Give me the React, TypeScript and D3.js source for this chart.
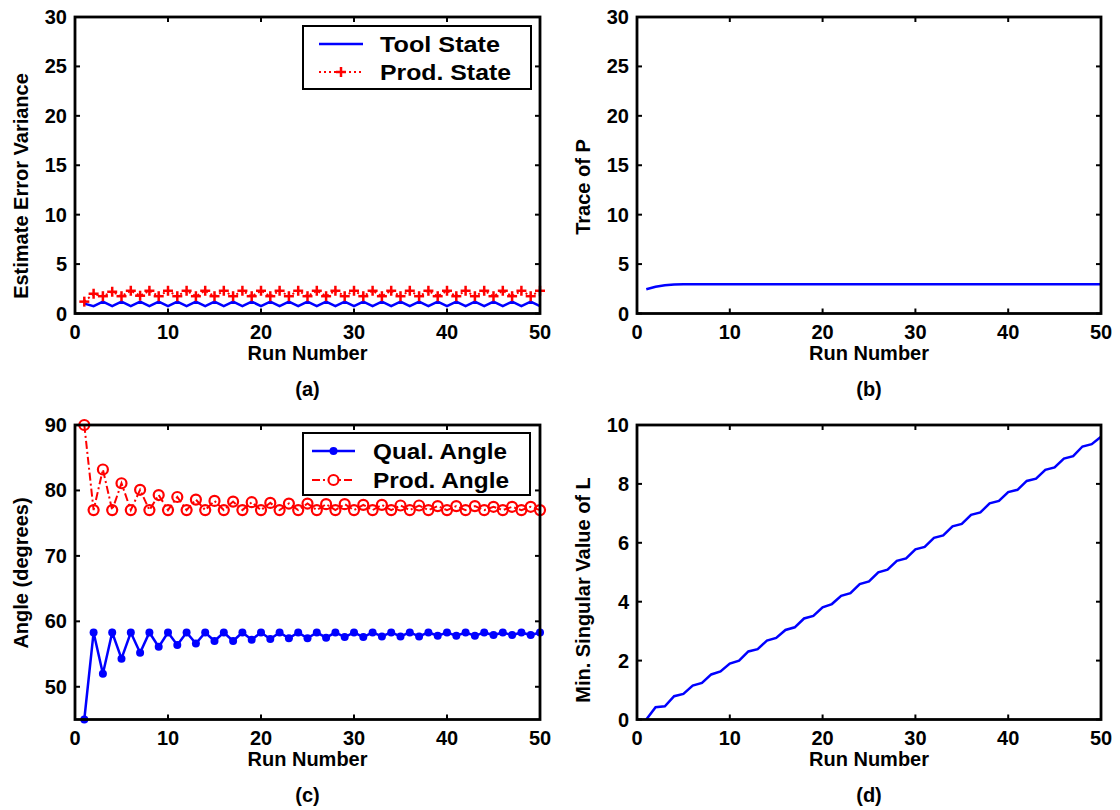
import React from "react";
import * as d3 from "d3";

// ---------- data ----------
const runs: number[] = Array.from({ length: 50 }, (_, i) => i + 1);

const toolStateVar: number[] = [
  1.0, 0.75, 1.2, 0.75, 1.2, 0.75, 1.2, 0.75, 1.2, 0.75,
  1.2, 0.75, 1.2, 0.75, 1.2, 0.75, 1.2, 0.75, 1.2, 0.75,
  1.2, 0.75, 1.2, 0.75, 1.2, 0.75, 1.2, 0.75, 1.2, 0.75,
  1.2, 0.75, 1.2, 0.75, 1.2, 0.75, 1.2, 0.75, 1.2, 0.75,
  1.2, 0.75, 1.2, 0.75, 1.2, 0.75, 1.2, 0.75, 1.2, 0.75,
];
const prodStateVar: number[] = [
  1.2, 2.0, 1.75, 2.2, 1.75, 2.3, 1.8, 2.3, 1.75, 2.3,
  1.75, 2.3, 1.75, 2.3, 1.75, 2.3, 1.75, 2.3, 1.75, 2.3,
  1.75, 2.3, 1.75, 2.3, 1.75, 2.3, 1.75, 2.3, 1.75, 2.3,
  1.75, 2.3, 1.75, 2.3, 1.75, 2.3, 1.75, 2.3, 1.75, 2.3,
  1.75, 2.3, 1.75, 2.3, 1.75, 2.3, 1.75, 2.3, 1.75, 2.3,
];
const traceP: number[] = [
  2.45, 2.7, 2.85, 2.93, 2.95, 2.95, 2.95, 2.95, 2.95, 2.95,
  2.95, 2.95, 2.95, 2.95, 2.95, 2.95, 2.95, 2.95, 2.95, 2.95,
  2.95, 2.95, 2.95, 2.95, 2.95, 2.95, 2.95, 2.95, 2.95, 2.95,
  2.95, 2.95, 2.95, 2.95, 2.95, 2.95, 2.95, 2.95, 2.95, 2.95,
  2.95, 2.95, 2.95, 2.95, 2.95, 2.95, 2.95, 2.95, 2.95, 2.95,
];
const qualAngle: number[] = [
  45.0, 58.3, 52.0, 58.3, 54.3, 58.3, 55.2, 58.3, 56.1, 58.3,
  56.4, 58.3, 56.6, 58.3, 57.0, 58.3, 57.0, 58.3, 57.2, 58.3,
  57.3, 58.3, 57.4, 58.3, 57.4, 58.3, 57.5, 58.3, 57.6, 58.3,
  57.6, 58.3, 57.7, 58.3, 57.7, 58.3, 57.7, 58.3, 57.8, 58.3,
  57.8, 58.3, 57.8, 58.3, 57.9, 58.3, 57.9, 58.3, 57.9, 58.3,
];
const prodAngle: number[] = [
  90.0, 77.0, 83.2, 77.0, 81.1, 77.0, 80.1, 77.0, 79.3, 77.0,
  79.0, 77.0, 78.6, 77.0, 78.4, 77.0, 78.3, 77.0, 78.2, 77.0,
  78.1, 77.0, 78.0, 77.0, 78.0, 77.0, 77.9, 77.0, 77.9, 77.0,
  77.8, 77.0, 77.8, 77.0, 77.7, 77.0, 77.7, 77.0, 77.6, 77.0,
  77.6, 77.0, 77.6, 77.0, 77.5, 77.0, 77.5, 77.0, 77.5, 77.0,
];
const minSingL: number[] = [
  0.0, 0.42, 0.45, 0.79, 0.87, 1.15, 1.24, 1.53, 1.63, 1.9,
  2.0, 2.31, 2.39, 2.68, 2.77, 3.04, 3.13, 3.43, 3.52, 3.81,
  3.92, 4.2, 4.29, 4.6, 4.69, 5.0, 5.09, 5.39, 5.47, 5.78,
  5.86, 6.17, 6.25, 6.56, 6.64, 6.95, 7.03, 7.34, 7.42, 7.72,
  7.8, 8.1, 8.18, 8.48, 8.56, 8.86, 8.94, 9.27, 9.35, 9.6,
];

const xTicks: number[] = [0, 10, 20, 30, 40, 50];
const yTicksA: number[] = [0, 5, 10, 15, 20, 25, 30];
const yTicksC: number[] = [50, 60, 70, 80, 90];
const yTicksD: number[] = [0, 2, 4, 6, 8, 10];

const FONT = "'Liberation Sans', Arial, Helvetica, sans-serif";
const BLUE = "#0000ff";
const RED = "#ff0000";
const FS = 20;

type Box = { x0: number; x1: number; y0: number; y1: number };

function Axes(props: {
  box: Box;
  yDomain: [number, number];
  yTicks: number[];
  yLabel: string;
  yLabelCenter: number;
  caption: string;
  children: (x: d3.ScaleLinear<number, number>, y: d3.ScaleLinear<number, number>) => React.ReactNode;
}) {
  const { box, yDomain, yTicks, yLabel, yLabelCenter, caption, children } = props;
  const x = d3.scaleLinear().domain([0, 50]).range([box.x0, box.x1]);
  const y = d3.scaleLinear().domain(yDomain).range([box.y1, box.y0]);
  const tl = 5;
  const cx = (box.x0 + box.x1) / 2;
  return (
    <g>
      {children(x, y)}
      <rect x={box.x0} y={box.y0} width={box.x1 - box.x0} height={box.y1 - box.y0}
        fill="none" stroke="#000" strokeWidth={2.8} />
      {xTicks.map((t) => (
        <g key={"xt" + t}>
          <line x1={x(t)} x2={x(t)} y1={box.y1} y2={box.y1 - tl} stroke="#000" strokeWidth={2} />
          <line x1={x(t)} x2={x(t)} y1={box.y0} y2={box.y0 + tl} stroke="#000" strokeWidth={2} />
          <text x={x(t)} y={box.y1 + 25} textAnchor="middle" fontFamily={FONT}
            fontWeight="bold" fontSize={FS}>{t}</text>
        </g>
      ))}
      {yTicks.map((t) => (
        <g key={"yt" + t}>
          <line x1={box.x0} x2={box.x0 + tl} y1={y(t)} y2={y(t)} stroke="#000" strokeWidth={2} />
          <line x1={box.x1} x2={box.x1 - tl} y1={y(t)} y2={y(t)} stroke="#000" strokeWidth={2} />
          <text x={box.x0 - 8} y={y(t) + 7} textAnchor="end" fontFamily={FONT}
            fontWeight="bold" fontSize={FS}>{t}</text>
        </g>
      ))}
      <text x={cx} y={box.y1 + 46} textAnchor="middle" fontFamily={FONT}
        fontWeight="bold" fontSize={FS}>Run Number</text>
      <text x={cx} y={box.y1 + 82} textAnchor="middle" fontFamily={FONT}
        fontWeight="bold" fontSize={FS}>{caption}</text>
      <text transform={`translate(${box.x0 - 47},${yLabelCenter}) rotate(-90)`} textAnchor="middle"
        fontFamily={FONT} fontWeight="bold" fontSize={FS}>{yLabel}</text>
    </g>
  );
}

function Plus({ cx, cy }: { cx: number; cy: number }) {
  const s = 5;
  return (
    <g stroke={RED} strokeWidth={2.5}>
      <line x1={cx - s} x2={cx + s} y1={cy} y2={cy} />
      <line x1={cx} x2={cx} y1={cy - s} y2={cy + s} />
    </g>
  );
}

function LegendText({ x, y, w, children }: { x: number; y: number; w: number; children: string }) {
  return (
    <text x={x} y={y} fontFamily={FONT} fontWeight="bold" fontSize={22}
      textLength={w} lengthAdjust="spacingAndGlyphs">{children}</text>
  );
}

export default function App() {
  const boxA: Box = { x0: 75, x1: 540, y0: 17, y1: 313.5 };
  const boxB: Box = { x0: 637, x1: 1101, y0: 17, y1: 313.5 };
  const boxC: Box = { x0: 75, x1: 540, y0: 425, y1: 719.5 };
  const boxD: Box = { x0: 637, x1: 1101, y0: 425, y1: 719.5 };

  const lineOf = (x: d3.ScaleLinear<number, number>, y: d3.ScaleLinear<number, number>, vals: number[]) =>
    d3.line<number>().x((_, i) => x(runs[i])).y((v) => y(v))(vals) || "";

  return (
    <svg width={1120} height={810} style={{ position: "absolute", left: 0, top: 0, background: "#fff" }}>
      <rect x={0} y={0} width={1120} height={810} fill="#fff" />
      {/* (a) */}
      <Axes box={boxA} yDomain={[0, 30]} yTicks={yTicksA} yLabel="Estimate Error Variance"
        yLabelCenter={186} caption="(a)">
        {(x, y) => (
          <g>
            <path d={lineOf(x, y, toolStateVar)} fill="none" stroke={BLUE} strokeWidth={2.5} />
            <path d={lineOf(x, y, prodStateVar)} fill="none" stroke={RED} strokeWidth={2}
              strokeDasharray="2,3" />
            {prodStateVar.map((v, i) => <Plus key={i} cx={x(runs[i])} cy={y(v)} />)}
          </g>
        )}
      </Axes>
      <g>
        <rect x={303} y={26} width={228} height={63} fill="#fff" stroke="#000" strokeWidth={2} />
        <line x1={319} x2={363} y1={44} y2={44} stroke={BLUE} strokeWidth={2.5} />
        <LegendText x={380} y={52} w={120}>Tool State</LegendText>
        <line x1={319} x2={363} y1={72} y2={72} stroke={RED} strokeWidth={2} strokeDasharray="2,3" />
        <Plus cx={341} cy={72} />
        <LegendText x={380} y={80} w={131}>Prod. State</LegendText>
      </g>

      {/* (b) */}
      <Axes box={boxB} yDomain={[0, 30]} yTicks={yTicksA} yLabel="Trace of P"
        yLabelCenter={187} caption="(b)">
        {(x, y) => <path d={lineOf(x, y, traceP)} fill="none" stroke={BLUE} strokeWidth={2.5} />}
      </Axes>

      {/* (c) */}
      <Axes box={boxC} yDomain={[45, 90]} yTicks={yTicksC} yLabel="Angle (degrees)"
        yLabelCenter={573} caption="(c)">
        {(x, y) => (
          <g>
            <path d={lineOf(x, y, qualAngle)} fill="none" stroke={BLUE} strokeWidth={2.5} />
            {qualAngle.map((v, i) => <circle key={i} cx={x(runs[i])} cy={y(v)} r={4} fill={BLUE} />)}
            <path d={lineOf(x, y, prodAngle)} fill="none" stroke={RED} strokeWidth={2}
              strokeDasharray="8,3,2,3" />
            {prodAngle.map((v, i) => (
              <circle key={i} cx={x(runs[i])} cy={y(v)} r={5} fill="none" stroke={RED} strokeWidth={2.2} />
            ))}
          </g>
        )}
      </Axes>
      <g>
        <rect x={303} y={433} width={227} height={62} fill="#fff" stroke="#000" strokeWidth={2} />
        <line x1={312} x2={355} y1={451} y2={451} stroke={BLUE} strokeWidth={2.5} />
        <circle cx={333.5} cy={451} r={4} fill={BLUE} />
        <LegendText x={373} y={459} w={134}>Qual. Angle</LegendText>
        <line x1={312} x2={355} y1={480} y2={480} stroke={RED} strokeWidth={2} strokeDasharray="8,3,2,3" />
        <circle cx={333.5} cy={480} r={5} fill="#fff" stroke={RED} strokeWidth={2.2} />
        <LegendText x={373} y={488} w={136}>Prod. Angle</LegendText>
      </g>

      {/* (d) */}
      <Axes box={boxD} yDomain={[0, 10]} yTicks={yTicksD} yLabel="Min. Singular Value of L"
        yLabelCenter={590} caption="(d)">
        {(x, y) => <path d={lineOf(x, y, minSingL)} fill="none" stroke={BLUE} strokeWidth={2.5} />}
      </Axes>
    </svg>
  );
}
